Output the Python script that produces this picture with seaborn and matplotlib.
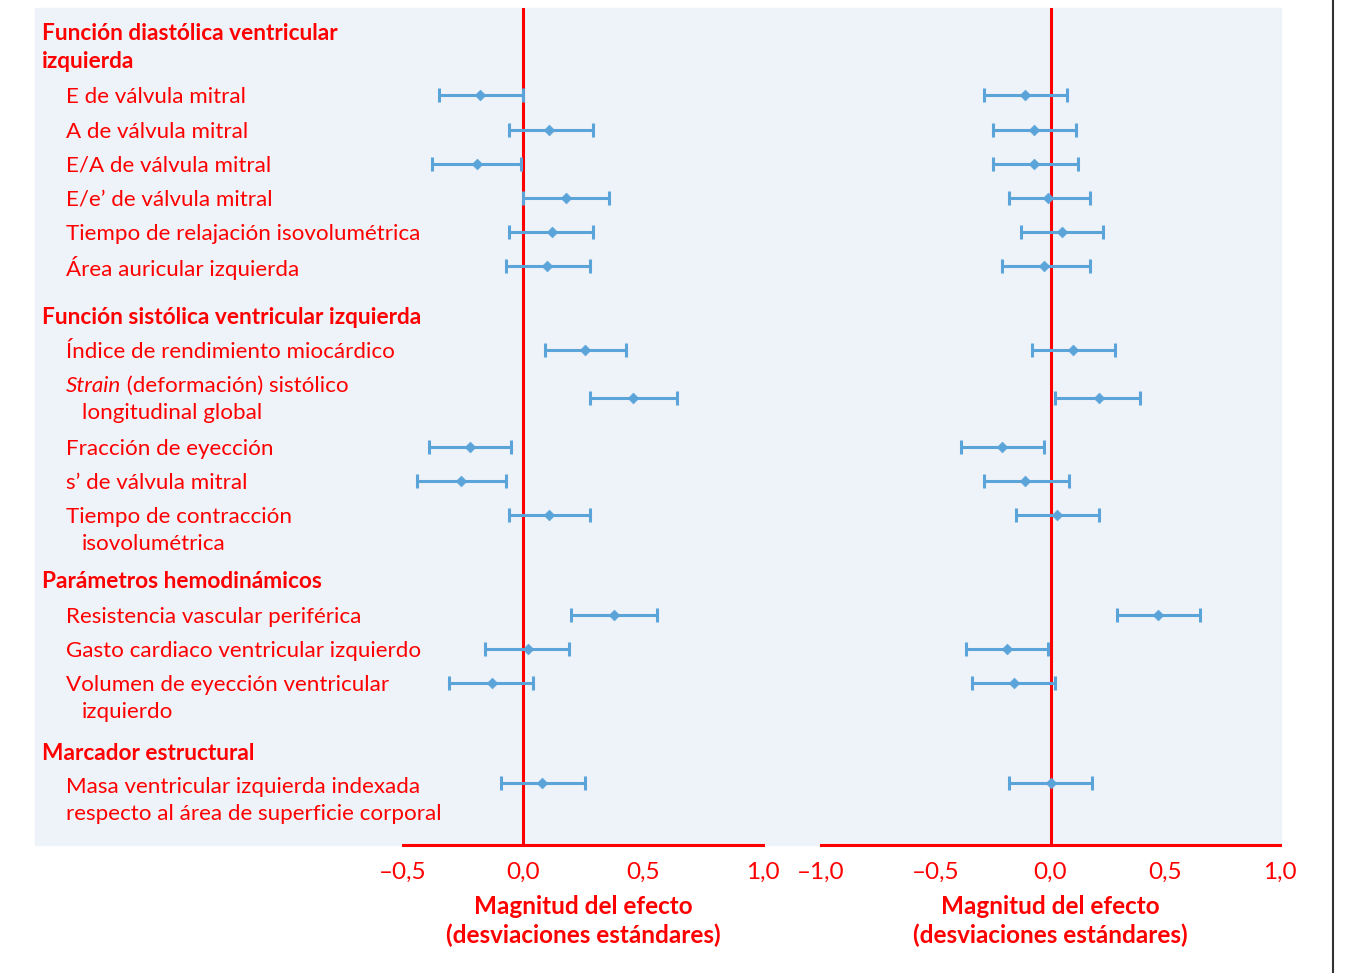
import numpy as np
import pandas as pd
import matplotlib
matplotlib.use('Agg')
import matplotlib.pyplot as plt
from matplotlib.patches import Rectangle
from matplotlib.lines import Line2D
import seaborn as sns

# data (effect size, SD units)
rows = ['E de válvula mitral', 'A de válvula mitral', 'E/A de válvula mitral',
        'E/e’ de válvula mitral', 'Tiempo de relajación isovolumétrica',
        'Área auricular izquierda', 'Índice de rendimiento miocárdico',
        'Strain (deformación) sistólico\nlongitudinal global', 'Fracción de eyección',
        's’ de válvula mitral', 'Tiempo de contracción\nisovolumétrica',
        'Resistencia vascular periférica', 'Gasto cardiaco ventricular izquierdo',
        'Volumen de eyección ventricular\nizquierdo',
        'Masa ventricular izquierda indexada\nrespecto al área de superficie corporal']

left_est = [-0.18, 0.11, -0.19, 0.18, 0.12, 0.10, 0.26, 0.46, -0.22, -0.26, 0.11, 0.38, 0.02, -0.13, 0.08]
left_lo = [-0.35, -0.06, -0.38, 0.00, -0.06, -0.07, 0.09, 0.28, -0.39, -0.44, -0.06, 0.20, -0.16, -0.31, -0.09]
left_hi = [0.00, 0.29, -0.01, 0.36, 0.29, 0.28, 0.43, 0.64, -0.05, -0.07, 0.28, 0.56, 0.19, 0.04, 0.26]

right_est = [-0.11, -0.07, -0.07, -0.01, 0.05, -0.03, 0.10, 0.21, -0.21, -0.11, 0.03, 0.47, -0.19, -0.16, 0.00]
right_lo = [-0.29, -0.25, -0.25, -0.18, -0.13, -0.21, -0.08, 0.02, -0.39, -0.29, -0.15, 0.29, -0.37, -0.34, -0.18]
right_hi = [0.07, 0.11, 0.12, 0.17, 0.23, 0.17, 0.28, 0.39, -0.03, 0.08, 0.21, 0.65, -0.01, 0.02, 0.18]

headers = ['Función diastólica ventricular\nizquierda', 'Función sistólica ventricular izquierda',
           'Parámetros hemodinámicos', 'Marcador estructural']

left_ticks = [-0.5, 0.0, 0.5, 1.0]
right_ticks = [-1.0, -0.5, 0.0, 0.5, 1.0]
xlabel = 'Magnitud del efecto\n(desviaciones estándares)'

# layout (pixels from top of the 1348x973 figure)
W, H = 1348, 973
row_y = [95, 130, 164, 198, 232, 266, 350, 398, 447, 481, 515, 615, 649, 683, 783]
label_y = [97, 132, 166, 200, 234, 268, 352, 386, 449, 483, 517, 617, 651, 685, 787]
wrap_indent = [82] * 14 + [66]   # last label wraps without indent
header_y = [34, 317, 582, 753]
top, bottom = 8, 845

RED = '#FF0000'
BLUE = '#5BA4DA'
BG = '#EEF3FA'
FS = 16.1

sns.set_style('white')
plt.rcParams['font.family'] = ['Lato', 'DejaVu Sans']


def fx(px):
    return px / W


def fy(py):
    return 1 - py / H


def tick_fmt(v):
    s = f'{abs(v):.1f}'.replace('.', ',')
    return ('–' + s) if v < 0 else s


fig = plt.figure(figsize=(W / 100, H / 100), dpi=100)
fig.patches.append(Rectangle((fx(35), fy(bottom)), fx(1281) - fx(35), (bottom - top) / H,
                             transform=fig.transFigure, color=BG, zorder=-5))
fig.add_artist(Line2D([fx(1333), fx(1333)], [0, 1], color='#333333', lw=1.5))

ax_l = fig.add_axes([fx(403), fy(bottom), fx(763) - fx(403), (bottom - top) / H])
ax_r = fig.add_axes([fx(821), fy(bottom), fx(1280) - fx(821), (bottom - top) / H])

panels = [(ax_l, left_est, left_lo, left_hi, left_ticks, (-0.5, 1.0)),
          (ax_r, right_est, right_lo, right_hi, right_ticks, (-1.0, 1.0))]

for ax, est, lo, hi, ticks, lims in panels:
    df = pd.DataFrame({'est': est, 'lo': lo, 'hi': hi, 'y': row_y})
    ax.set_facecolor('none')
    ax.axvline(0, color=RED, lw=2.2, zorder=1)
    ax.errorbar(df['est'], df['y'], xerr=[df['est'] - df['lo'], df['hi'] - df['est']],
                fmt='none', ecolor=BLUE, elinewidth=2.2, capsize=5, capthick=2.2, zorder=2)
    sns.scatterplot(data=df, x='est', y='y', ax=ax, marker='D', s=30, color=BLUE,
                    edgecolor=BLUE, zorder=3, legend=False)
    ax.set_xlim(*lims)
    ax.set_ylim(bottom, top)
    ax.set_yticks([])
    ax.set_ylabel('')
    for s in ['left', 'right', 'top']:
        ax.spines[s].set_visible(False)
    ax.spines['bottom'].set_color(RED)
    ax.spines['bottom'].set_linewidth(2.2)
    ax.set_xticks(ticks)
    ax.set_xticklabels([tick_fmt(t) for t in ticks])
    ax.tick_params(axis='x', colors=RED, length=7, width=2.2, labelsize=17.5, pad=5)
    ax.set_xlabel(xlabel, color=RED, fontsize=17.5, fontweight='bold', labelpad=9,
                  linespacing=1.25)

# row labels
for lab, y, ind in zip(rows, label_y, wrap_indent):
    lines = lab.split('\n')
    for i, line in enumerate(lines):
        x = 66 if i == 0 else ind
        yy = y + i * 27
        if line.startswith('Strain'):
            t = fig.text(fx(x), fy(yy), 'Strain', color=RED, fontsize=FS,
                         style='italic', va='center', ha='left')
            ax_l.annotate(line[len('Strain'):], xy=(1, 0.5), xycoords=t, va='center',
                          ha='left', color=RED, fontsize=FS, annotation_clip=False)
        else:
            fig.text(fx(x), fy(yy), line, color=RED, fontsize=FS, va='center', ha='left')

# section headers
for lab, y in zip(headers, header_y):
    for i, line in enumerate(lab.split('\n')):
        fig.text(fx(42), fy(y + i * 28), line, color=RED, fontsize=16.3,
                 fontweight='bold', va='center', ha='left')

fig.savefig('out.png', dpi=100)
